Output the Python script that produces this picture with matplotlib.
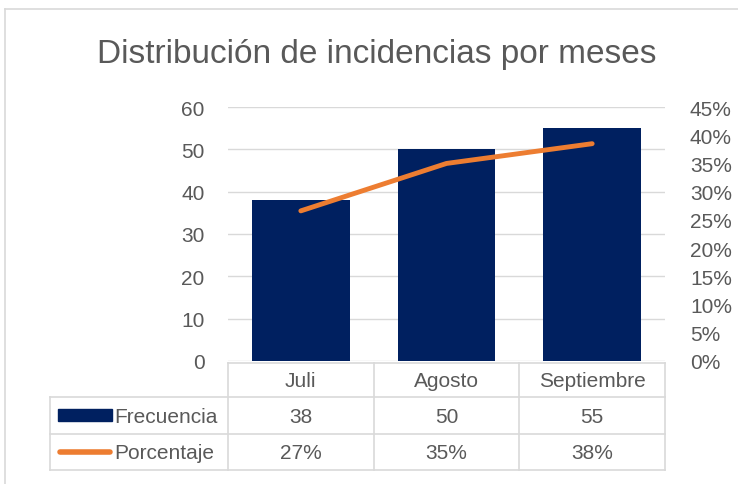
import matplotlib.pyplot as plt
from matplotlib.lines import Line2D
from matplotlib.patches import Rectangle
import matplotlib.ticker as mticker

months = ["Juli", "Agosto", "Septiembre"]
frecuencia = [38, 50, 55]
porcentaje = [0.266, 0.350, 0.385]
pct_labels = ["27%", "35%", "38%"]

NAVY = "#002060"
ORANGE = "#ED7D31"
TXT = "#595959"
GRID = "#D9D9D9"

plt.rcParams["font.family"] = ["Liberation Sans Narrow", "Liberation Sans", "DejaVu Sans"]

W, H = 738, 485
fig = plt.figure(figsize=(W / 100, H / 100), dpi=100)


def px(x0, y0, x1, y1):
    # pixel box (top-left origin) -> figure fraction
    return [x0 / W, 1 - y1 / H, (x1 - x0) / W, (y1 - y0) / H]


# outer chart frame
fig.add_artist(Line2D([5 / W, 5 / W], [0, 1 - 10 / H], color=GRID, lw=1.2))
fig.add_artist(Line2D([5 / W, 1], [1 - 10 / H, 1 - 10 / H], color=GRID, lw=1.2))

fig.text(377 / W, 1 - 55 / H, "Distribución de incidencias por meses",
         ha="center", va="center", fontsize=24, color=TXT)

x0, x1, ytop, ybot = 228, 665, 108, 362
ax = fig.add_axes(px(x0, ytop, x1, ybot))
x = list(range(len(months)))
ax.bar(x, frecuencia, width=0.67, color=NAVY, zorder=2)
ax.set_xlim(-0.5, len(months) - 0.5)
ax.set_ylim(0, 60)
ax.set_yticks(range(0, 61, 10))
ax.grid(axis="y", color=GRID, lw=1, zorder=0)
ax.set_xticks([])
for s in ax.spines.values():
    s.set_visible(False)
ax.tick_params(axis="y", length=0, pad=17, labelsize=15, labelcolor=TXT)

ax2 = ax.twinx()
ax2.plot(x, porcentaje, color=ORANGE, lw=3.5, solid_capstyle="round", zorder=3)
ax2.set_ylim(0, 0.45)
ax2.set_yticks([i * 0.05 for i in range(10)])
ax2.yaxis.set_major_formatter(mticker.FuncFormatter(lambda v, p: f"{round(v * 100)}%"))
for s in ax2.spines.values():
    s.set_visible(False)
ax2.tick_params(axis="y", length=0, pad=18, labelsize=15, labelcolor=TXT)

# data table below the plot
tl, tr = 50, 665
rows_y = [364, 398, 435, 471]
cat_w = (x1 - x0) / len(months)
tax = fig.add_axes(px(tl, rows_y[0], tr, rows_y[-1]))
tax.set_xlim(tl, tr)
tax.set_ylim(rows_y[-1], rows_y[0])
tax.axis("off")
lw = 1.2
tax.plot([x0, x0], [rows_y[0], rows_y[-1]], color=GRID, lw=lw, clip_on=False)
for i in range(1, len(months) + 1):
    cx = x0 + i * cat_w
    tax.plot([cx, cx], [rows_y[0], rows_y[-1]], color=GRID, lw=lw, clip_on=False)
tax.plot([x0, tr], [rows_y[0], rows_y[0]], color=GRID, lw=lw, clip_on=False)
for yy in rows_y[1:]:
    tax.plot([tl, tr], [yy, yy], color=GRID, lw=lw, clip_on=False)
tax.plot([tl, tl], [rows_y[1], rows_y[-1]], color=GRID, lw=lw, clip_on=False)

fs = 15
for i, m in enumerate(months):
    cx = x0 + (i + 0.5) * cat_w
    tax.text(cx, (rows_y[0] + rows_y[1]) / 2 + 1, m, ha="center", va="center", fontsize=fs, color=TXT)
    tax.text(cx, (rows_y[1] + rows_y[2]) / 2 + 1, str(frecuencia[i]), ha="center", va="center", fontsize=fs, color=TXT)
    tax.text(cx, (rows_y[2] + rows_y[3]) / 2 + 1, pct_labels[i], ha="center", va="center", fontsize=fs, color=TXT)

ym1 = (rows_y[1] + rows_y[2]) / 2
ym2 = (rows_y[2] + rows_y[3]) / 2
tax.add_patch(Rectangle((58, ym1 - 6), 54, 12, color=NAVY, clip_on=False))
tax.plot([60, 110], [ym2, ym2], color=ORANGE, lw=4, solid_capstyle="round", clip_on=False)
tax.text(114, ym1 + 1, "Frecuencia", ha="left", va="center", fontsize=fs, color=TXT)
tax.text(114, ym2 + 1, "Porcentaje", ha="left", va="center", fontsize=fs, color=TXT)

fig.savefig("out.png", dpi=100)
